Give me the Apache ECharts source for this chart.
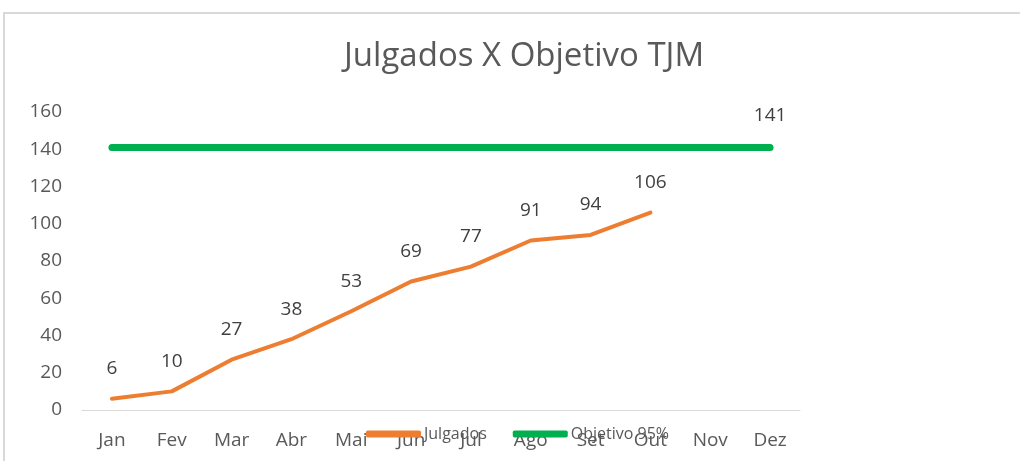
<!DOCTYPE html>
<html>
<head>
<meta charset="utf-8">
<script src="https://cdn.jsdelivr.net/npm/echarts@6/dist/echarts.min.js"></script>
<style>
  html, body { margin: 0; padding: 0; background: #fff; }
  #chart { width: 1020px; height: 461px; }
</style>
</head>
<body>
<div id="chart"></div>
<script>
// dados
const meses = ['Jan', 'Fev', 'Mar', 'Abr', 'Mai', 'Jun', 'Jul', 'Ago', 'Set', 'Out', 'Nov', 'Dez']
const julgados = [6, 10, 27, 38, 53, 69, 77, 91, 94, 106]
const objetivo = [141, 141, 141, 141, 141, 141, 141, 141, 141, 141, 141, 141]
const yTicks = [0, 20, 40, 60, 80, 100, 120, 140, 160]

const fonte = "'Open Sans', 'Liberation Sans', sans-serif"
const corTexto = '#595959'
const laranja = '#ED7D31'
const verde = '#00B050'

const chart = echarts.init(document.getElementById('chart'))

const option = {
    backgroundColor: '#fff',
    animation: false,
    textStyle: { fontFamily: fonte },
    graphic: [
        {
            // moldura do gráfico
            type: 'rect',
            shape: { x: 4, y: 13, width: 1100, height: 500 },
            style: { fill: 'none', stroke: '#d9d9d9', lineWidth: 2 },
            silent: true
        }
    ],
    title: {
        text: 'Julgados X Objetivo TJM',
        left: 339,
        top: 35,
        textStyle: { fontFamily: fonte, fontSize: 33, fontWeight: 'normal', color: corTexto }
    },
    legend: {
        left: 361,
        top: 421,
        itemWidth: 55,
        itemHeight: 7,
        itemGap: 26,
        textStyle: { fontFamily: fonte, fontSize: 16, color: corTexto, padding: [0, 0, 0, -2] },
        data: [
            { name: 'Julgados', icon: 'roundRect', itemStyle: { color: laranja } },
            { name: 'Objetivo 95%', icon: 'roundRect', itemStyle: { color: verde } }
        ]
    },
    grid: { left: 82, right: 220, top: 112, bottom: 51 },
    xAxis: {
        type: 'category',
        data: meses,
        boundaryGap: true,
        axisLine: { lineStyle: { color: '#d9d9d9', width: 1 } },
        axisTick: { show: false },
        axisLabel: { color: corTexto, fontSize: 19, margin: 21, interval: 0 }
    },
    yAxis: {
        type: 'value',
        min: yTicks[0],
        max: yTicks[yTicks.length - 1],
        interval: 20,
        splitLine: { show: false },
        axisLine: { show: false },
        axisTick: { show: false },
        axisLabel: { color: corTexto, fontSize: 19, margin: 20 }
    },
    series: [
        {
            name: 'Julgados',
            type: 'line',
            data: julgados,
            symbol: 'circle',
            symbolSize: 1,
            itemStyle: { color: 'rgba(0,0,0,0)' },
            lineStyle: { width: 4, color: laranja, cap: 'round', join: 'round' },
            label: {
                show: true,
                position: 'top',
                distance: 20,
                fontSize: 19,
                color: '#404040'
            },
            z: 3
        },
        {
            name: 'Objetivo 95%',
            type: 'line',
            data: objetivo.map((v, i) => ({
                value: v,
                label: { show: i === objetivo.length - 1 }
            })),
            symbol: 'circle',
            symbolSize: 1,
            itemStyle: { color: 'rgba(0,0,0,0)' },
            lineStyle: { width: 7, color: verde, cap: 'round' },
            label: {
                position: 'top',
                distance: 22,
                fontSize: 19,
                color: '#404040'
            },
            z: 2
        }
    ]
}

chart.setOption(option)
</script>
</body>
</html>
